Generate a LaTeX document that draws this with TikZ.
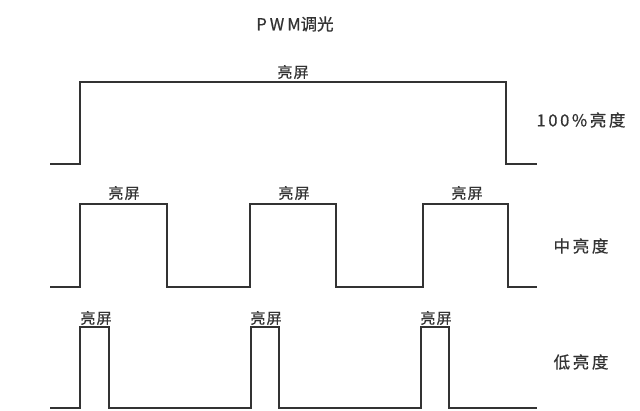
\documentclass[tikz,border=0pt]{standalone}
\usepackage{fontspec}
\setmainfont{Noto Sans CJK SC}[FakeBold=0.6]
\newfontfamily\lblfont{Noto Sans CJK SC}[LetterSpace=8,FakeBold=0.6]
\newfontfamily\sidefont{Noto Sans CJK SC}[LetterSpace=16,FakeBold=0.6]
\newfontfamily\ttlfont{Noto Sans CJK SC}[LetterSpace=18,FakeBold=0.6]
\begin{document}
\begin{tikzpicture}[x=1pt,y=-1pt,
  wave/.style={draw=black!80, line width=1.6pt, line join=miter},
  lbl/.style={font=\lblfont\fontsize{15}{17}\selectfont, text=black!80, inner sep=0pt},
  side/.style={font=\sidefont\fontsize{16.5}{18}\selectfont, text=black!80, inner sep=0pt},
  ttl/.style={font=\ttlfont\fontsize{16.5}{18}\selectfont, text=black!80, inner sep=0pt}]
\useasboundingbox (0,0) rectangle (640,411);
\fill[white] (0,0) rectangle (640,411);
% title
\node[ttl] (title) at (295,24) {PWM{\rmfamily 调光}};
% row 1: 100%
\draw[wave] (50,164) -- (80,164) -- (80,82) -- (506,82) -- (506,164) -- (537,164);
\node[lbl] (l1) at (293,72) {亮屏};
\node[side] (s1) at (581,120) {100\%亮度};
% row 2: medium
\draw[wave] (50,287) -- (80,287) -- (80,204) -- (167,204) -- (167,287)
  -- (250,287) -- (250,204) -- (336,204) -- (336,287)
  -- (423,287) -- (423,204) -- (508,204) -- (508,287) -- (537,287);
\node[lbl] (l2a) at (124,193) {亮屏};
\node[lbl] (l2b) at (294,193) {亮屏};
\node[lbl] (l2c) at (467,193) {亮屏};
\node[side] (s2) at (581,246) {中亮度};
% row 3: low
\draw[wave] (50,408) -- (80,408) -- (80,327) -- (109,327) -- (109,408)
  -- (251,408) -- (251,327) -- (279,327) -- (279,408)
  -- (421,408) -- (421,327) -- (449,327) -- (449,408) -- (537,408);
\node[lbl] (l3a) at (96,318) {亮屏};
\node[lbl] (l3b) at (266,318) {亮屏};
\node[lbl] (l3c) at (436,318) {亮屏};
\node[side] (s3) at (581,362) {低亮度};
\end{tikzpicture}
\end{document}
